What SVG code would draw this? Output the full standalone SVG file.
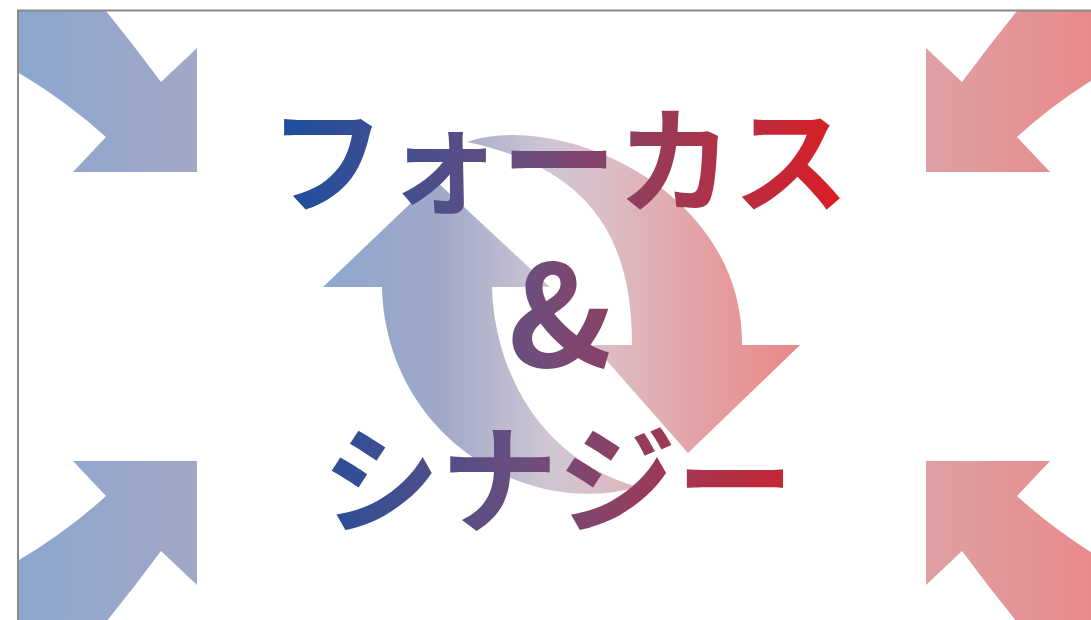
<svg xmlns="http://www.w3.org/2000/svg" width="1091" height="620" viewBox="0 0 1091 620">
  <defs>
    <linearGradient id="gBlueCorner" gradientUnits="userSpaceOnUse" x1="18" y1="0" x2="197" y2="0">
      <stop offset="0" stop-color="#8BA7CF"/>
      <stop offset="1" stop-color="#A2A7C6"/>
    </linearGradient>
    <linearGradient id="gRedCorner" gradientUnits="userSpaceOnUse" x1="926" y1="0" x2="1091" y2="0">
      <stop offset="0" stop-color="#DEA0A3"/>
      <stop offset="1" stop-color="#E98A8C"/>
    </linearGradient>
    <linearGradient id="gCycle" gradientUnits="userSpaceOnUse" x1="320" y1="0" x2="800" y2="0">
      <stop offset="0" stop-color="#8DA7CE"/>
      <stop offset="0.25" stop-color="#A0A8C8"/>
      <stop offset="0.48" stop-color="#CFC6D3"/>
      <stop offset="0.6" stop-color="#DBBDC4"/>
      <stop offset="0.8" stop-color="#E4A0A3"/>
      <stop offset="1" stop-color="#EA8888"/>
    </linearGradient>
    <linearGradient id="gText" gradientUnits="userSpaceOnUse" x1="278" y1="0" x2="840" y2="0">
      <stop offset="0" stop-color="#1B4F9F"/>
      <stop offset="0.45" stop-color="#6E4D7C"/>
      <stop offset="1" stop-color="#DA1E24"/>
    </linearGradient>
    <clipPath id="frame">
      <rect x="19" y="11" width="1072" height="609"/>
    </clipPath>
  </defs>
  <style>
    .txt { font-family: "Noto Sans CJK JP", "Noto Sans", sans-serif; font-weight: 700; fill: url(#gText); text-anchor: middle; }
    .blueCorner { fill: url(#gBlueCorner); }
    .redCorner { fill: url(#gRedCorner); }
    .cycle { fill: url(#gCycle); }
  </style>
  <rect x="0" y="0" width="1091" height="620" fill="#FFFFFF"/>

  <g id="corner-arrows" clip-path="url(#frame)">
    <path id="arrow-top-left" class="blueCorner" d="M197,48 L197,172 L73,172 L106,137 Q60,95 0,62 L0,0 L97,0 Q130,40 161,82 Z"/>
    <path id="arrow-top-right" class="redCorner" d="M926,48 L926,172 L1050,172 L1017,137 Q1063,95 1123,62 L1123,0 L1026,0 Q993,40 962,82 Z"/>
    <path id="arrow-bottom-left" class="blueCorner" d="M197,585 L197,461 L73,461 L106,496 Q60,538 0,571 L0,633 L97,633 Q130,593 161,551 Z"/>
    <path id="arrow-bottom-right" class="redCorner" d="M926,585 L926,461 L1050,461 L1017,496 Q1063,538 1123,571 L1123,633 L1026,633 Q993,593 962,551 Z"/>
  </g>

  <g id="cycle-arrows">
    <path id="cycle-up" class="cycle" d="M323,287 L435,180 L550,287 L492,287 C494,370 540,460 638,487 C520,520 385,430 382,287 Z"/>
    <path id="cycle-down" class="cycle" d="M467,142 C560,110 744,190 742,345 L800,345 L688,453 L593,345 L632,345 C632,250 600,170 467,142 Z"/>
  </g>

  <g id="frame-lines" fill="none" stroke="#8A8A8A" stroke-width="2">
    <path d="M18,620 L18,10.5 L1091,10.5"/>
  </g>

  <g id="title-text">
    <text class="txt" x="559" y="204" font-size="116">フォーカス</text>
    <text class="txt" x="560" y="367" font-size="140">&amp;</text>
    <text class="txt" x="558" y="524" font-size="118">シナジー</text>
  </g>
</svg>
